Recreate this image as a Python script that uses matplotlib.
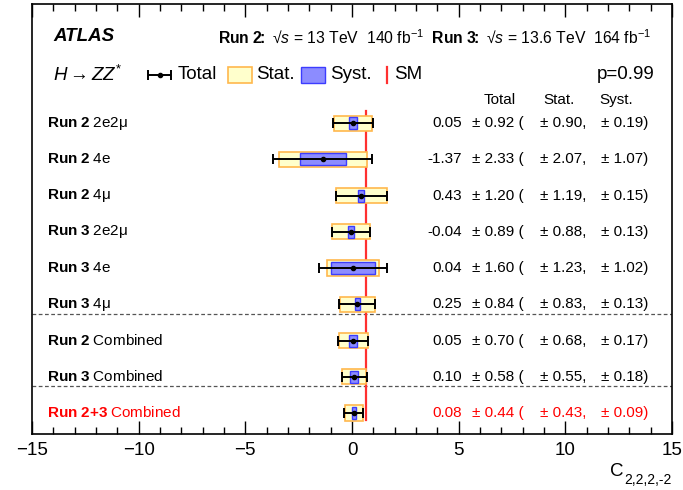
import matplotlib
matplotlib.use('Agg')
import matplotlib.pyplot as plt
import matplotlib.ticker as mticker
from matplotlib.patches import Rectangle

plt.rcParams['font.family'] = ['Liberation Sans', 'DejaVu Sans']
plt.rcParams['mathtext.fontset'] = 'custom'
plt.rcParams['mathtext.rm'] = 'Liberation Sans'
plt.rcParams['mathtext.it'] = 'Liberation Sans:italic'
plt.rcParams['mathtext.bf'] = 'Liberation Sans:bold'
plt.rcParams['mathtext.sf'] = 'Liberation Sans'

# === DATA ===
runs = ['Run 2', 'Run 2', 'Run 2', 'Run 3', 'Run 3', 'Run 3', 'Run 2', 'Run 3', 'Run 2+3']
channels = ['2e2μ', '4e', '4μ', '2e2μ', '4e', '4μ', 'Combined', 'Combined', 'Combined']
central = [0.05, -1.37, 0.43, -0.04, 0.04, 0.25, 0.05, 0.10, 0.08]
err_total = [0.92, 2.33, 1.20, 0.89, 1.60, 0.84, 0.70, 0.58, 0.44]
err_stat = [0.90, 2.07, 1.19, 0.88, 1.23, 0.83, 0.68, 0.55, 0.43]
err_syst = [0.19, 1.07, 0.15, 0.13, 1.02, 0.13, 0.17, 0.18, 0.09]
sm_value = 0.65
p_value = 0.99
separators = [2.72, 0.75]

STAT_FC, STAT_EC = '#ffffcc', '#ffb84d'
SYST_FC, SYST_EC = '#8c8cff', '#3c3cff'
SM_COL = '#ff3030'

fig = plt.figure(figsize=(6.83, 4.90), dpi=100)
ax = fig.add_axes([32/683, 56/490, 640/683, 430/490])

n = len(central)
ys = [n - 1 - i for i in range(n)]

# SM line
ax.plot([sm_value, sm_value], [-0.19, 8.34], color=SM_COL, lw=1.6, zorder=2)

for i in range(n):
    y = ys[i]
    c = central[i]
    ax.add_patch(Rectangle((c - err_stat[i], y - 0.21), 2*err_stat[i], 0.42,
                           facecolor=STAT_FC, edgecolor=STAT_EC, lw=1.2, zorder=3))
    ax.add_patch(Rectangle((c - err_syst[i], y - 0.165), 2*err_syst[i], 0.33,
                           facecolor=SYST_FC, edgecolor=SYST_EC, lw=1.0, zorder=4))
    ax.errorbar([c], [y], xerr=[err_total[i]], fmt='o', color='black', ms=3,
                elinewidth=1.4, capsize=3.5, capthick=1.4, zorder=5)

    col = 'red' if runs[i] == 'Run 2+3' else 'black'
    run_tex = runs[i].replace(' ', r'\ ').replace('+', '{+}')
    ax.text(-14.3, y, r'$\mathbf{' + run_tex + r'}\;$' + channels[i], ha='left', va='center',
            fontsize=11, color=col)
    ax.text(5.16, y, f'{c:.2f}', ha='right', va='center', fontsize=11, color=col)
    ax.text(5.63, y, f'± {err_total[i]:.2f} (', ha='left', va='center', fontsize=11, color=col)
    ax.text(8.81, y, f'± {err_stat[i]:.2f},', ha='left', va='center', fontsize=11, color=col)
    ax.text(11.67, y, f'± {err_syst[i]:.2f})', ha='left', va='center', fontsize=11, color=col)

for s in separators:
    ax.axhline(s, color='#555555', ls=(0, (3, 2)), lw=0.9, zorder=1)

# header
ax.text(6.94, 8.65, 'Total', ha='center', va='center', fontsize=11)
ax.text(9.70, 8.65, 'Stat.', ha='center', va='center', fontsize=11)
ax.text(12.38, 8.65, 'Syst.', ha='center', va='center', fontsize=11)

# top lines
ax.text(-14.02, 10.39, 'ATLAS', ha='left', va='center', fontsize=13.5,
        fontweight='bold', fontstyle='italic')
ax.text(-6.28, 10.39, r'$\mathbf{Run\ 2\!\!:}$ √$s$ = 13 TeV  140 fb$^{-1}$  '
        r'$\mathbf{Run\ 3\!\!:}$ √$s$ = 13.6 TeV  164 fb$^{-1}$',
        ha='left', va='center', fontsize=11.3)

# legend row
ly = 9.34
ax.text(-14.02, ly, r'$H \rightarrow ZZ^{*}$', ha='left', va='center', fontsize=13.5)
ax.errorbar([-9.02], [ly], xerr=[0.55], fmt='o', color='black', ms=3,
            elinewidth=1.4, capsize=3.5, capthick=1.4)
ax.text(-8.16, ly, 'Total', ha='left', va='center', fontsize=13.5)
ax.add_patch(Rectangle((-5.81, ly - 0.22), 1.12, 0.44, facecolor=STAT_FC, edgecolor=STAT_EC, lw=1.2))
ax.text(-4.5, ly, 'Stat.', ha='left', va='center', fontsize=13.5)
ax.add_patch(Rectangle((-2.39, ly - 0.22), 1.12, 0.44, facecolor=SYST_FC, edgecolor=SYST_EC, lw=1.0))
ax.text(-1.03, ly, 'Syst.', ha='left', va='center', fontsize=13.5)
ax.plot([1.64, 1.64], [ly - 0.22, ly + 0.22], color=SM_COL, lw=1.6)
ax.text(1.97, ly, 'SM', ha='left', va='center', fontsize=13.5)
ax.text(14.16, ly, f'p={p_value:.2f}', ha='right', va='center', fontsize=13.5)

# axes styling
ax.set_xlim(-15, 15)
ax.set_ylim(-0.58, 11.29)
ax.xaxis.set_major_locator(mticker.MultipleLocator(5))
ax.xaxis.set_minor_locator(mticker.MultipleLocator(1))
ax.tick_params(axis='x', which='both', direction='in', top=True, labelsize=13.5, pad=6)
ax.tick_params(axis='x', which='major', length=9.5, width=1.0)
ax.tick_params(axis='x', which='minor', length=5, width=1.0)
ax.tick_params(axis='y', left=False, labelleft=False)
for sp in ax.spines.values():
    sp.set_linewidth(1.2)

# x label C_{2,2,2,-2}
fig.text(610/683, 1 - 471/490, 'C', ha='left', va='center', fontsize=13.5)
fig.text(624/683, 1 - 480/490, '2,2,2,-2', ha='left', va='center', fontsize=10)

fig.savefig('out.png', dpi=100)
